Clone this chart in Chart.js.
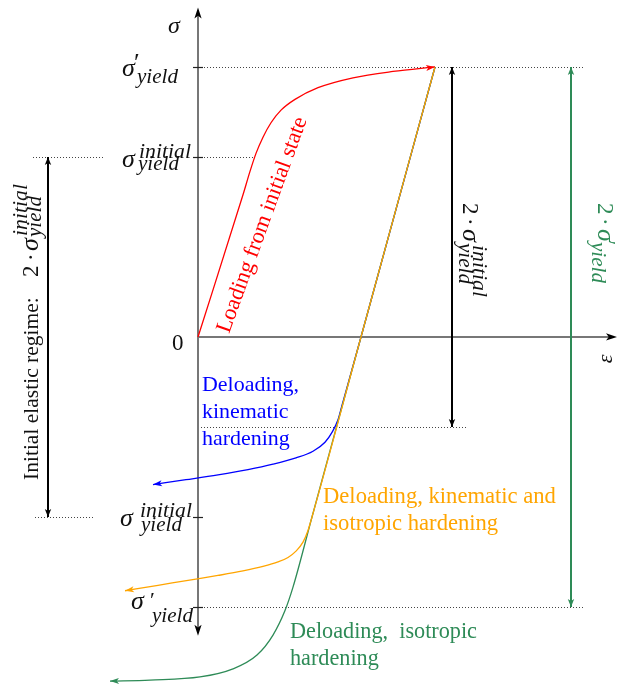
<!DOCTYPE html>
<html><head><meta charset="utf-8">
<script src="https://cdn.jsdelivr.net/npm/chart.js@4/dist/chart.umd.min.js"></script>
<style>html,body{margin:0;padding:0;background:#fff;}#wrap{width:618px;height:684px;}</style>
</head><body><div id="wrap"><canvas id="c" width="618" height="684"></canvas></div>
<script>
// ---- data (strain in arbitrary units, stress in units of sigma_yield_initial) ----
const strainLoading = [0, 0.45, 0.52, 0.58, 0.65, 0.73, 0.83, 0.97, 1.20, 1.55, 1.95, 2.37];
const stressLoading = [0, 0.79, 0.92, 1.02, 1.11, 1.19, 1.26, 1.32, 1.385, 1.44, 1.475, 1.50];

const strainKinematic = [2.37, 1.63, 1.44, 1.40, 1.34, 1.27, 1.15, 0.98, 0.75, 0.50, 0.20, -0.12, -0.45];
const stressKinematic = [1.50, 0, -0.38, -0.46, -0.53, -0.585, -0.635, -0.672, -0.707, -0.737, -0.766, -0.793, -0.82];

const strainKinIso = [2.37, 1.63, 1.14, 1.10, 1.05, 0.98, 0.90, 0.80, 0.65, 0.45, 0.20, -0.10, -0.40, -0.73];
const stressKinIso = [1.50, 0, -1.00, -1.075, -1.14, -1.19, -1.225, -1.25, -1.275, -1.30, -1.325, -1.352, -1.38, -1.41];

const strainIsotropic = [2.37, 1.63, 1.14, 0.95, 0.87, 0.75, 0.59, 0.35, 0.02, -0.48, -0.88];
const stressIsotropic = [1.50, 0, -1.00, -1.39, -1.52, -1.656, -1.767, -1.844, -1.889, -1.906, -1.912];

// yield levels: sigma'_yield, sigma_yield_initial
const yieldLevels = [1.5, 1.0, -1.0, -1.5];
// double arrows: strain position, from stress, to stress
const rangeStrain = [2.54, 3.73, -1.50];
const rangeFrom   = [1.5, 1.5, 1.0];
const rangeTo     = [-0.5, -1.5, -1.0];
// dotted guide lines
const guideLevel = [1.5, 1.0, 1.0, -0.5, -1.0, -1.5];
const guideFrom  = [0, -1.65, 0, 0, -1.63, 0];
const guideTo    = [3.87, -0.93, 0.55, 2.70, -1.03, 3.87];

const FONT = '"Liberation Serif", "Times New Roman", serif';
const GREEN = '#2e8b57';
const pts = (xs, ys) => xs.map((x, i) => ({x, y: ys[i]}));

function arrowHead(ctx, tx, ty, dx, dy, len, half, color) {
  const n = Math.hypot(dx, dy) || 1; dx /= n; dy /= n;
  const bx = tx - dx * len, by = ty - dy * len;
  const px = -dy, py = dx;
  ctx.save(); ctx.fillStyle = color; ctx.beginPath();
  ctx.moveTo(tx, ty);
  ctx.lineTo(bx + px * half, by + py * half);
  ctx.lineTo(tx - dx * len * 0.75, ty - dy * len * 0.75);
  ctx.lineTo(bx - px * half, by - py * half);
  ctx.closePath(); ctx.fill(); ctx.restore();
}
function fit(ctx, text, width, style) {
  ctx.font = `${style} 100px ${FONT}`;
  return 100 * width / ctx.measureText(text).width;
}
function put(ctx, text, x, y, size, style, color) {
  ctx.font = `${style} ${size}px ${FONT}`;
  ctx.fillStyle = color; ctx.textAlign = 'left'; ctx.textBaseline = 'alphabetic';
  ctx.fillText(text, x, y);
}

const decor = {
  id: 'decor',
  beforeDatasetsDraw(chart) {
    const {ctx, scales: {x, y}} = chart;
    const X = v => x.getPixelForValue(v), Y = v => y.getPixelForValue(v);
    ctx.save();
    ctx.setLineDash([1, 2]); ctx.lineWidth = 1; ctx.strokeStyle = '#444';
    guideLevel.forEach((lv, i) => {
      ctx.beginPath(); ctx.moveTo(X(guideFrom[i]), Math.round(Y(lv)) + 0.5);
      ctx.lineTo(X(guideTo[i]), Math.round(Y(lv)) + 0.5); ctx.stroke();
    });
    ctx.setLineDash([]);
    const ox = X(0), oy = Y(0);
    const top = Y(1.83), bottom = Y(-1.66), right = X(4.19);
    ctx.strokeStyle = '#777'; ctx.lineWidth = 2;
    ctx.beginPath(); ctx.moveTo(ox, bottom - 8); ctx.lineTo(ox, top + 8); ctx.stroke();
    ctx.beginPath(); ctx.moveTo(ox, oy); ctx.lineTo(right - 8, oy); ctx.stroke();
    arrowHead(ctx, ox, top, 0, -1, 11, 3.6, '#000');
    arrowHead(ctx, ox, bottom, 0, 1, 11, 3.6, '#000');
    arrowHead(ctx, right, oy, 1, 0, 11, 3.6, '#000');
    ctx.strokeStyle = '#222'; ctx.lineWidth = 1.2;
    yieldLevels.forEach(lv => {
      const py = Math.round(Y(lv)) + 0.5;
      ctx.beginPath(); ctx.moveTo(ox - 5, py); ctx.lineTo(ox + 5, py); ctx.stroke();
    });
    ctx.restore();
  },
  afterDatasetsDraw(chart) {
    const {ctx, scales: {x, y}} = chart;
    const X = v => x.getPixelForValue(v), Y = v => y.getPixelForValue(v);
    ctx.save();
    chart.data.datasets.forEach((ds, i) => {
      const els = chart.getDatasetMeta(i).data;
      const n = els.length;
      if (ds.arrowEnd) {
        const a = els[n - 1], b = els[n - 2];
        arrowHead(ctx, a.x, a.y, a.x - b.x, a.y - b.y, 9, 3, ds.borderColor);
      }
      if (ds.arrowBoth) {
        const a = els[0], b = els[n - 1];
        arrowHead(ctx, a.x, a.y, a.x - b.x, a.y - b.y, 8, 3.2, ds.borderColor);
        arrowHead(ctx, b.x, b.y, b.x - a.x, b.y - a.y, 8, 3.2, ds.borderColor);
      }
    });

    const K = '#111';
    put(ctx, 'σ', 168, 33, 24, 'italic', K);
    put(ctx, '0', 172, Y(0) + 13, 23, '', K);
    ctx.save(); ctx.translate(606, Y(0) + 22); ctx.rotate(-Math.PI / 2);
    ctx.textAlign = 'center'; ctx.textBaseline = 'middle';
    ctx.font = `italic 22px ${FONT}`; ctx.fillStyle = K; ctx.fillText('ε', 0, 0); ctx.restore();

    const sub = fit(ctx, 'yield', 41, 'italic');
    const sup = fit(ctx, 'initial', 52, 'italic');
    let yy = Y(1.5);
    put(ctx, 'σ', 122, yy + 9, 26, 'italic', K);
    put(ctx, '′', 134, yy + 4, 26, '', K);
    put(ctx, 'yield', 137, yy + 16, sub, 'italic', K);
    yy = Y(1.0);
    put(ctx, 'σ', 122, yy + 10, 26, 'italic', K);
    put(ctx, 'initial', 139, yy + 1, sup, 'italic', K);
    put(ctx, 'yield', 138, yy + 13, sub, 'italic', K);
    yy = Y(-1.0);
    put(ctx, 'σ', 120, yy + 9, 26, 'italic', K);
    put(ctx, 'initial', 140, yy, sup, 'italic', K);
    put(ctx, 'yield', 141, yy + 14, sub, 'italic', K);
    yy = Y(-1.5);
    put(ctx, 'σ', 131, yy + 2, 26, 'italic', K);
    put(ctx, '′', 150, yy, 22, '', K);
    put(ctx, 'yield', 152, yy + 15, sub, 'italic', K);

    ctx.save(); ctx.translate(463, 203); ctx.rotate(Math.PI / 2);
    put(ctx, '2', 0, 0, 23, '', K);
    put(ctx, '·', 15, 0, 23, '', K);
    put(ctx, 'σ', 26, 0, 26, 'italic', K);
    put(ctx, 'initial', 42, -10, sup, 'italic', K);
    put(ctx, 'yield', 40, 4, sub, 'italic', K);
    ctx.restore();
    ctx.save(); ctx.translate(598, 203); ctx.rotate(Math.PI / 2);
    put(ctx, '2', 0, 0, 23, '', GREEN);
    put(ctx, '·', 15, 0, 23, '', GREEN);
    put(ctx, 'σ', 26, 0, 26, 'italic', GREEN);
    put(ctx, '′', 38, -4, 18, '', GREEN);
    put(ctx, 'yield', 39, 6, sub, 'italic', GREEN);
    ctx.restore();
    ctx.save(); ctx.translate(38, 480); ctx.rotate(-Math.PI / 2);
    const ls = fit(ctx, 'Initial elastic regime:', 183, '');
    put(ctx, 'Initial elastic regime:', 0, 0, ls, '', K);
    put(ctx, '2', 203, 0, 23, '', K);
    put(ctx, '·', 219, 0, 23, '', K);
    put(ctx, 'σ', 229, 0, 26, 'italic', K);
    put(ctx, 'initial', 244, -11, sup, 'italic', K);
    put(ctx, 'yield', 243, 3, sub, 'italic', K);
    ctx.restore();

    ctx.save(); ctx.translate(229, 334); ctx.rotate(Math.atan2(-217, 79));
    put(ctx, 'Loading from initial state', 0, 0, fit(ctx, 'Loading from initial state', 228, ''), '', 'red');
    ctx.restore();

    const bs = fit(ctx, 'Deloading,', 97, '');
    put(ctx, 'Deloading,', 202, 391, bs, '', 'blue');
    put(ctx, 'kinematic', 202, 418, bs, '', 'blue');
    put(ctx, 'hardening', 202, 445, bs, '', 'blue');
    const os = fit(ctx, 'Deloading, kinematic and', 233, '');
    put(ctx, 'Deloading, kinematic and', 323, 503, os, '', 'orange');
    put(ctx, 'isotropic hardening', 323, 530, os, '', 'orange');
    const gs = fit(ctx, 'Deloading,  isotropic', 187, '');
    put(ctx, 'Deloading,  isotropic', 290, 638, gs, '', GREEN);
    put(ctx, 'hardening', 290, 665, gs, '', GREEN);
    ctx.restore();
  }
};

const curve = (label, xs, ys, color) => ({
  label, data: pts(xs, ys), borderColor: color, backgroundColor: color,
  borderWidth: 1.3, pointRadius: 0, cubicInterpolationMode: 'monotone', fill: false, arrowEnd: true
});
const range = (i, color) => ({
  label: 'range' + i,
  data: [{x: rangeStrain[i], y: rangeFrom[i]}, {x: rangeStrain[i], y: rangeTo[i]}],
  borderColor: color, borderWidth: 2, pointRadius: 0, tension: 0, fill: false, arrowBoth: true
});

new Chart(document.getElementById('c'), {
  type: 'line',
  data: {
    datasets: [
      curve('Deloading, kinematic and isotropic hardening', strainKinIso, stressKinIso, 'orange'),
      curve('Deloading, isotropic hardening', strainIsotropic, stressIsotropic, GREEN),
      curve('Deloading, kinematic hardening', strainKinematic, stressKinematic, 'blue'),
      curve('Loading from initial state', strainLoading, stressLoading, 'red'),
      range(0, '#000'), range(1, GREEN), range(2, '#000')
    ]
  },
  options: {
    responsive: false, animation: false, devicePixelRatio: 1,
    layout: {padding: 0},
    scales: {
      x: {type: 'linear', min: -1.98, max: 4.20, display: false},
      y: {type: 'linear', min: -1.928, max: 1.872, display: false}
    },
    plugins: {legend: {display: false}, tooltip: {enabled: false}}
  },
  plugins: [decor]
});
</script></body></html>
